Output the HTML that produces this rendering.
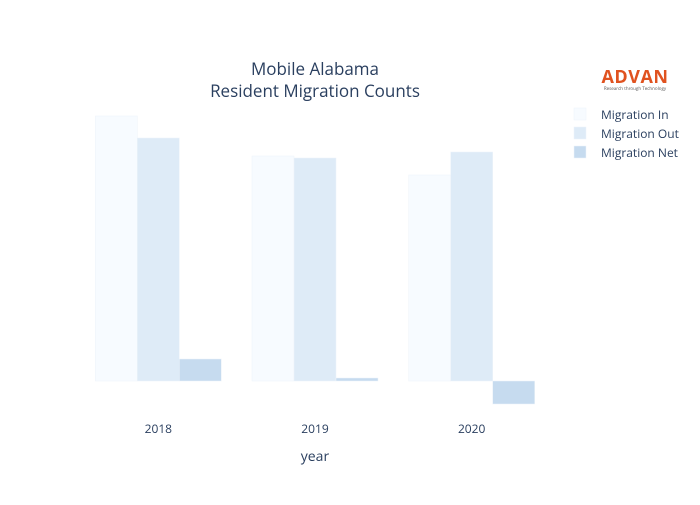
<!DOCTYPE html>
<html><head><meta charset="utf-8"><style>
body{margin:0;background:#fff;}
svg text{font-family:"Open Sans","Liberation Sans",sans-serif;fill:#2a3f5f;}
</style></head><body>
<svg width="700" height="500" viewBox="0 0 700 500">
<text x="315" y="75" text-anchor="middle" font-size="17">Mobile Alabama</text>
<text x="315" y="97" text-anchor="middle" font-size="17">Resident Migration Counts</text>
<g id="bars"></g>
<g id="xticks"></g>
<text x="315" y="461" text-anchor="middle" font-size="14">year</text>
<g>
<text x="635" y="83" text-anchor="middle" font-size="18" font-weight="bold" style="fill:#e0521f" letter-spacing="0.5">ADVAN</text>
<text x="635" y="90" text-anchor="middle" font-size="4.5" style="fill:#555">Research through Technology</text>
</g>
<g id="legend"></g>
</svg>
<script>
const categories=["2018","2019","2020"];
const seriesNames=["Migration In","Migration Out","Migration Net"];
const migrationIn=[26500,22500,20600];
const migrationOut=[24300,22300,22900];
const migrationNet=[2200,300,-2300];
const colors=["#f7fbff","#deebf7","#c6dbef"];
const NS="http://www.w3.org/2000/svg";
const zeroY=381, scale=0.01;
const y=v=>zeroY-v*scale;
const x0=80, x1=550, bandW=(x1-x0)/categories.length, barW=42;
const xc=i=>x0+bandW*(i+0.5);
const bars=document.getElementById('bars');
[migrationIn,migrationOut,migrationNet].forEach((s,si)=>{
  s.forEach((v,i)=>{
    const r=document.createElementNS(NS,'rect');
    const bx=xc(i)-1.5*barW+si*barW;
    r.setAttribute('x',bx);r.setAttribute('width',barW);
    r.setAttribute('y',Math.min(y(v),y(0)));r.setAttribute('height',Math.abs(y(v)-y(0)));
    r.setAttribute('fill',colors[si]);r.setAttribute('stroke','#eef3f9');r.setAttribute('stroke-width','0.5');
    
    
    bars.appendChild(r);
  });
});
const xt=document.getElementById('xticks');
categories.forEach((c,i)=>{
  const t=document.createElementNS(NS,'text');
  t.setAttribute('x',xc(i));t.setAttribute('y',433);t.setAttribute('text-anchor','middle');t.setAttribute('font-size','12');
  t.textContent=c;
  
  
  xt.appendChild(t);
});
const lg=document.getElementById('legend');
seriesNames.forEach((n,i)=>{
  const g=document.createElementNS(NS,'g');
  
  
  const r=document.createElementNS(NS,'rect');
  r.setAttribute('x',574);r.setAttribute('y',108+i*19);r.setAttribute('width',12);r.setAttribute('height',12);
  r.setAttribute('fill',colors[i]);r.setAttribute('stroke','#eef3f9');r.setAttribute('stroke-width','0.5');
  const t=document.createElementNS(NS,'text');
  t.setAttribute('x',601);t.setAttribute('y',119+i*19);t.setAttribute('font-size','12');
  t.textContent=n;
  g.appendChild(r);g.appendChild(t);lg.appendChild(g);
});
</script>
</body></html>
